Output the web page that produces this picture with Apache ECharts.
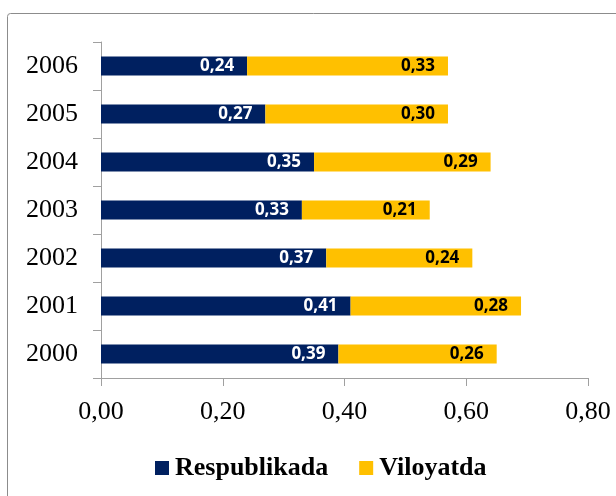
<!DOCTYPE html>
<html><head><meta charset="utf-8">
<script src="https://cdn.jsdelivr.net/npm/echarts@6/dist/echarts.min.js"></script>
<style>html,body{margin:0;padding:0;background:#fff}#c{width:616px;height:496px}</style>
</head><body><div id="c"></div>
<script>
var categories = ['2000','2001','2002','2003','2004','2005','2006'];
var respublikada = [0.39, 0.41, 0.37, 0.33, 0.35, 0.27, 0.24];
var viloyatda = [0.26, 0.28, 0.24, 0.21, 0.29, 0.30, 0.33];
var seriesNames = ['Respublikada', 'Viloyatda'];
var xTicks = [0, 0.2, 0.4, 0.6, 0.8];

function fmt(v){ return Number(v).toFixed(2).replace('.', ','); }
var chart = echarts.init(document.getElementById('c'));
var serif = '"Liberation Serif","Times New Roman",serif';
chart.setOption({
  animation: false,
  graphic: [{type:'rect', shape:{x:7.5,y:13.5,width:700,height:600,r:3}, style:{fill:'none', stroke:'#8c8c8c', lineWidth:1}, z:-1}],
  grid: {left:101, right:28, top:42, bottom:118},
  legend: {
    data: seriesNames, left:150, top:450, itemWidth:14, itemHeight:14, itemGap:31,
    icon: 'rect',
    textStyle: {fontFamily: serif, fontWeight:'bold', fontSize:26, color:'#000', padding:[0,0,0,1]}
  },
  xAxis: {
    type:'value', min:0, max:0.8, interval:0.2,
    axisLine:{show:true, lineStyle:{color:'#a0a0a0'}},
    axisTick:{show:true, length:8, lineStyle:{color:'#a0a0a0'}},
    splitLine:{show:false},
    axisLabel:{margin:21, fontFamily: serif, fontSize:26, color:'#000', formatter: fmt}
  },
  yAxis: {
    type:'category', data: categories,
    axisLine:{show:true, lineStyle:{color:'#a0a0a0'}},
    axisTick:{show:true, length:8, inside:false, lineStyle:{color:'#a0a0a0'}},
    axisLabel:{margin:23, fontFamily: serif, fontSize:26, color:'#000'}
  },
  series: [
    {name: seriesNames[0], type:'bar', stack:'a', data: respublikada, barWidth:19,
     itemStyle:{color:'#002060'},
     label:{show:true, position:'insideRight', distance:13, color:'#fff', fontFamily:'"Open Sans",sans-serif', fontWeight:'bold', fontSize:17, formatter: function(p){return fmt(p.value);}}},
    {name: seriesNames[1], type:'bar', stack:'a', data: viloyatda, barWidth:19,
     itemStyle:{color:'#FFC000'},
     label:{show:true, position:'insideRight', distance:13, color:'#000', fontFamily:'"Open Sans",sans-serif', fontWeight:'bold', fontSize:17, formatter: function(p){return fmt(p.value);}}}
  ]
});
</script></body></html>
